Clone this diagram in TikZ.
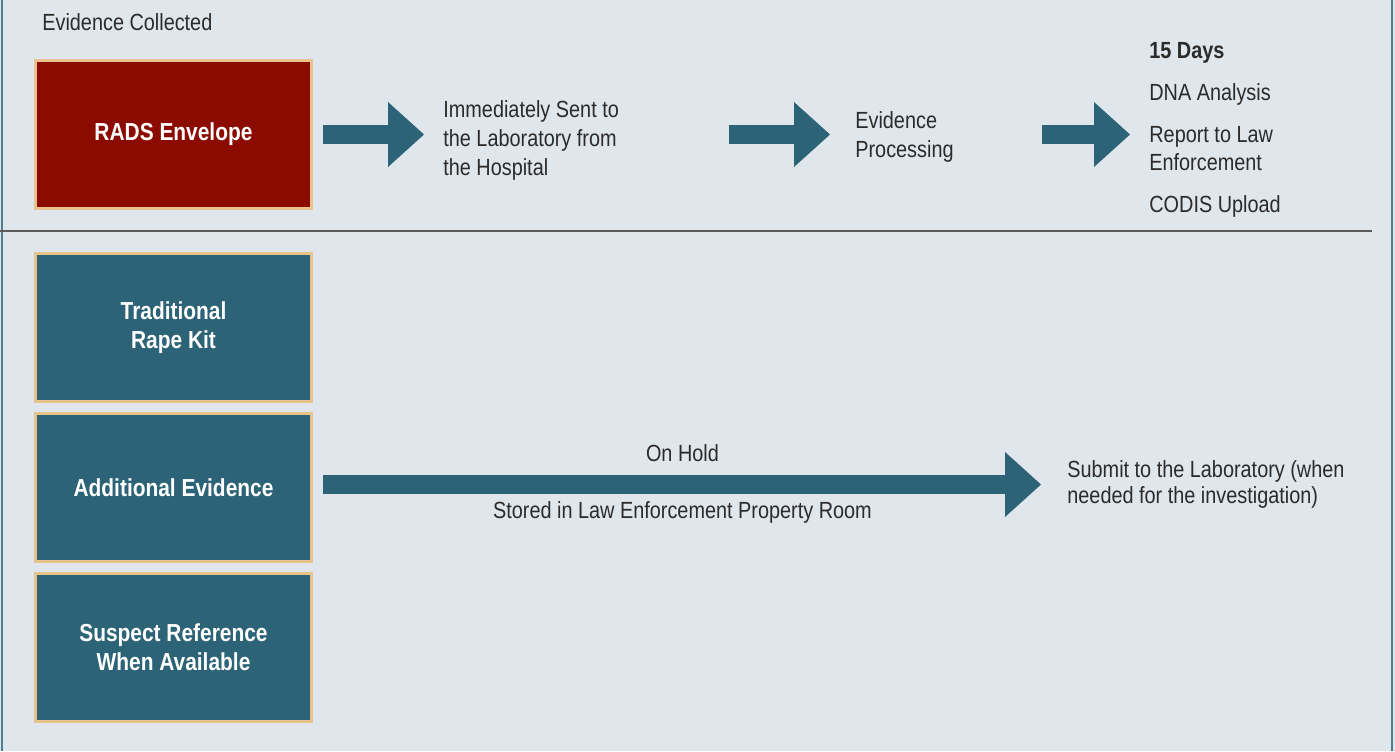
\documentclass[tikz,border=0pt]{standalone}
\usepackage{fontspec}
\setmainfont{Liberation Sans}[FakeStretch=0.85]
\usetikzlibrary{arrows.meta}
\definecolor{bgblue}{HTML}{DFE6EC}
\definecolor{kitteal}{HTML}{2C6376}
\definecolor{radsred}{HTML}{8B0B00}
\definecolor{kittan}{HTML}{E9C38C}
\definecolor{txtgray}{HTML}{2B2B2B}
\definecolor{rulegray}{HTML}{5A5A5A}
\definecolor{edgeteal}{HTML}{4F7D90}
\begin{document}
\begin{tikzpicture}[x=0.02cm,y=-0.02cm,
  kitbox/.style={draw=kittan,line width=0.06cm,fill=kitteal,text=white,
    minimum width=5.52cm,minimum height=2.96cm,align=center,
    font=\fontsize{14}{16.5}\selectfont\bfseries},
  plain/.style={text=txtgray,align=left,inner sep=0pt,
    font=\fontsize{13.3}{16.6}\selectfont},
  flow/.style={draw=kitteal,line width=0.39cm,
    -{Triangle[length=0.72cm,width=1.3cm,line width=0pt]}}]
\useasboundingbox (0,0) rectangle (1395,751);
\fill[bgblue] (0,0) rectangle (1395,751);
\draw[edgeteal,line width=0.05cm] (2,0)--(2,751) (1392,0)--(1392,751);
\draw[rulegray,line width=0.04cm] (0,231)--(1372,231);
% evidence column
\node[plain,anchor=base west] (head) at (42,30) {Evidence Collected};
\node[kitbox,fill=radsred] (rads) at (173.5,134.5) {RADS Envelope};
\node[kitbox] (trad) at (173.5,327.5) {Traditional\\Rape Kit};
\node[kitbox] (addl) at (173.5,487.5) {Additional Evidence};
\node[kitbox] (susp) at (173.5,647.5) {Suspect Reference\\When Available};
% RADS path
\node[plain,anchor=west] (sent) at (443,140.5) {Immediately Sent to\\the Laboratory from\\the Hospital};
\node[plain,anchor=west] (proc) at (855,137) {Evidence\\Processing};
\node[plain,anchor=west,font=\fontsize{13.3}{16}\selectfont] (days) at (1149,130) {{\bfseries 15 Days}\\[8pt]DNA Analysis\\[8pt]Report to Law\\Enforcement\\[8pt]CODIS Upload};
\draw[flow,shorten <=0.2cm,shorten >=0.38cm] (rads.east) -- (rads.east -| sent.west);
\draw[flow,shorten <=2.2cm,shorten >=0.5cm] (sent.east |- rads.east) -- (proc.west |- rads.east);
\draw[flow,shorten <=1.76cm,shorten >=0.38cm] (proc.east |- rads.east) -- (days.west |- rads.east);
% traditional path
\node[plain,anchor=west,font=\fontsize{13.3}{14.8}\selectfont] (submit) at (1067,484.5) {Submit to the Laboratory (when\\needed for the investigation)};
\draw[flow,line width=0.37cm,shorten <=0.2cm,shorten >=0.52cm] (addl.east |- submit.west) -- (submit.west)
  node[plain,pos=0.49,yshift=0.62cm] (hold) {On Hold}
  node[plain,pos=0.49,yshift=-0.56cm] (room) {Stored in Law Enforcement Property Room};
\end{tikzpicture}
\end{document}
